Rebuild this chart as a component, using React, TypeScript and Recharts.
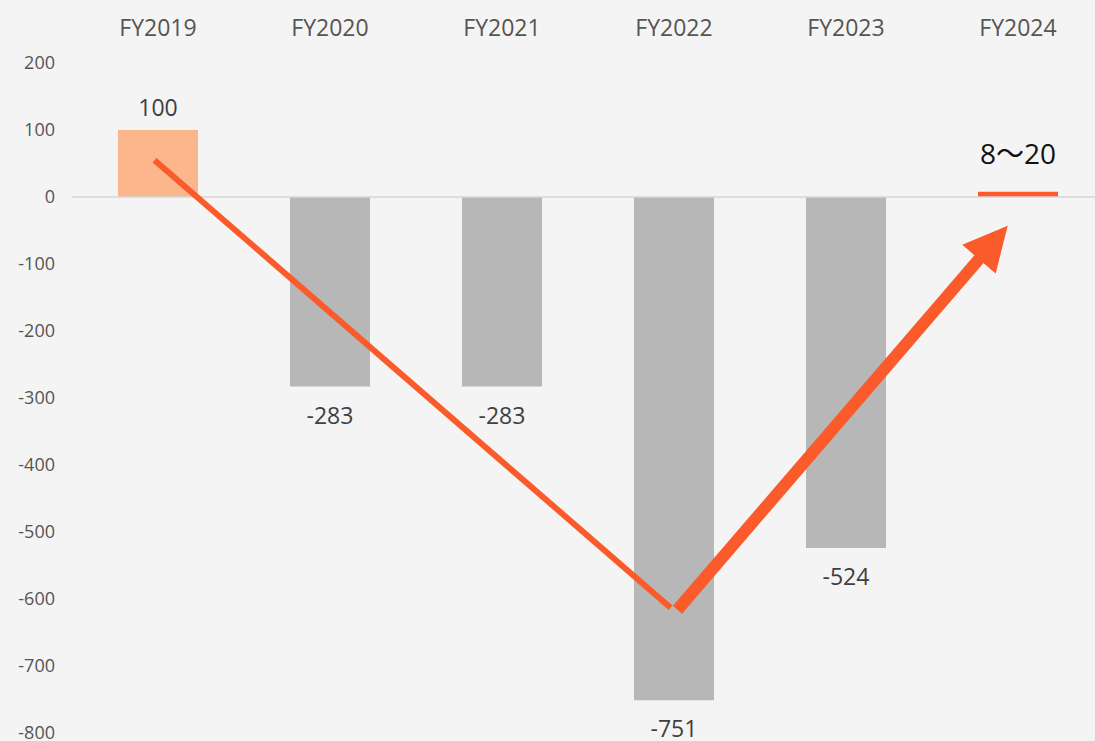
import React from "react";
import { BarChart, Bar, XAxis, YAxis, Cell, LabelList, ReferenceLine } from "recharts";

const years = ["FY2019", "FY2020", "FY2021", "FY2022", "FY2023", "FY2024"];
const profit = [100, -283, -283, -751, -524, 8];
const valueLabels = ["100", "-283", "-283", "-751", "-524", "8〜20"];
const barColors = ["#fbb68c", "#b7b7b7", "#b7b7b7", "#b7b7b7", "#b7b7b7", "#fb5a2b"];
const yTicks = [200, 100, 0, -100, -200, -300, -400, -500, -600, -700, -800];

// trend marks as [category position, value]
const declineStart = [-0.02, 55];
const declineEnd = [2.98, -613];
const recoveryStart = [3.02, -616];
const recoveryEnd = [4.94, -43];

const ARROW = "#fb5a2b";
const FONT = "'Open Sans', 'Noto Sans CJK JP', sans-serif";

const data = years.map((year, i) => ({ year, pos: i, profit: profit[i], label: valueLabels[i] }));

function TrendLine(props: any) {
  const { x1, y1, x2, y2 } = props;
  return <line x1={x1} y1={y1} x2={x2} y2={y2} stroke={ARROW} strokeWidth={6} />;
}

function TrendArrow(props: any) {
  const { x1, y1, x2, y2 } = props;
  const dx = x2 - x1;
  const dy = y2 - y1;
  const len = Math.hypot(dx, dy);
  const ux = dx / len;
  const uy = dy / len;
  const px = -uy;
  const py = ux;
  const head = 44;
  const half = 22;
  const bx = x2 - ux * head;
  const by = y2 - uy * head;
  return (
    <g>
      <line x1={x1} y1={y1} x2={bx + ux * 4} y2={by + uy * 4} stroke={ARROW} strokeWidth={12} />
      <polygon
        points={`${x2},${y2} ${bx + px * half},${by + py * half} ${bx - px * half},${by - py * half}`}
        fill={ARROW}
      />
    </g>
  );
}

function renderLabel(props: any) {
  const { x, y, width, height, index } = props;
  const cx = x + width / 2;
  const top = Math.min(y, y + height);
  const bottom = Math.max(y, y + height);
  const v = profit[index];
  if (index === 5) {
    return (
      <text x={cx} y={top - 39} textAnchor="middle" dominantBaseline="central" fill="#111" fontSize={28} fontFamily={FONT}>
        {valueLabels[index]}
      </text>
    );
  }
  return (
    <text
      x={cx}
      y={v >= 0 ? top - 23 : bottom + 28}
      textAnchor="middle"
      dominantBaseline="central"
      fill="#404040"
      fontSize={23}
      fontFamily={FONT}
    >
      {valueLabels[index]}
    </text>
  );
}

export default function App() {
  return (
    <div
      style={{
        position: "absolute",
        left: 0,
        top: 0,
        width: 1095,
        height: 741,
        overflow: "hidden",
        background: "#f4f4f4",
        fontFamily: FONT,
      }}
    >
      <BarChart width={1110} height={741} data={data} margin={{ top: 0, right: 6, left: 0, bottom: 8 }} barSize={80}>
        <XAxis
          dataKey="year"
          orientation="top"
          height={63}
          axisLine={false}
          tickLine={false}
          tickMargin={21}
          tick={{ fill: "#555", fontSize: 23, fontFamily: FONT }}
        />
        <XAxis xAxisId="n" dataKey="pos" type="number" domain={[-0.5, 5.5]} allowDataOverflow hide />
        <YAxis
          domain={[-800, 200]}
          ticks={yTicks}
          interval={0}
          width={72}
          axisLine={false}
          tickLine={false}
          tickMargin={11}
          tick={{ fill: "#555", fontSize: 18, fontFamily: FONT }}
        />
        <ReferenceLine y={0} stroke="#d6d6d6" strokeWidth={1.5} />
        <Bar dataKey="profit" isAnimationActive={false}>
          {data.map((d, i) => (
            <Cell key={d.year} fill={barColors[i]} />
          ))}
          <LabelList dataKey="label" content={renderLabel} />
        </Bar>
        <ReferenceLine
          xAxisId="n"
          ifOverflow="visible"
          segment={[
            { x: declineStart[0], y: declineStart[1] },
            { x: declineEnd[0], y: declineEnd[1] },
          ]}
          shape={TrendLine}
        />
        <ReferenceLine
          xAxisId="n"
          ifOverflow="visible"
          segment={[
            { x: recoveryStart[0], y: recoveryStart[1] },
            { x: recoveryEnd[0], y: recoveryEnd[1] },
          ]}
          shape={TrendArrow}
        />
      </BarChart>
    </div>
  );
}
